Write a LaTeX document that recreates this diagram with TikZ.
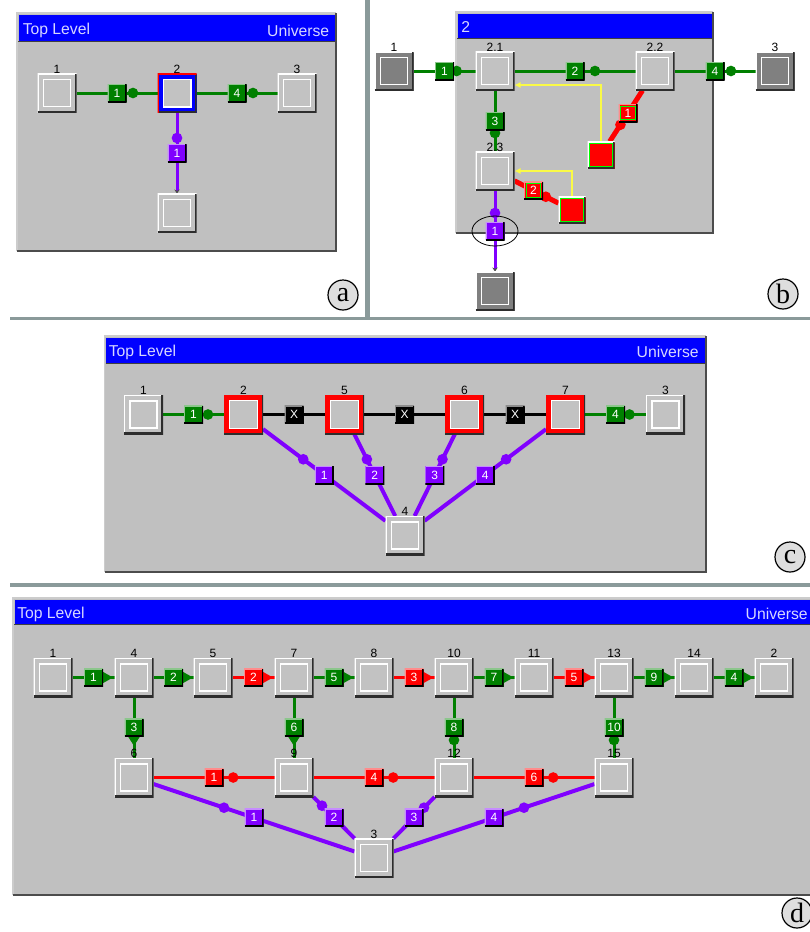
\documentclass[tikz,border=0pt]{standalone}
\usepackage{fontspec}
\setmainfont{Liberation Sans}
\newfontfamily\serifl{Liberation Serif}
\usetikzlibrary{calc,arrows.meta}
\pgfdeclarelayer{back}
\pgfdeclarelayer{lines}
\pgfsetlayers{back,lines,main}

\definecolor{wingray}{RGB}{192,192,192}
\definecolor{boxfill}{RGB}{194,194,194}
\definecolor{darkbox}{RGB}{128,128,128}
\definecolor{shadowc}{RGB}{45,45,45}
\definecolor{tblue}{RGB}{0,0,255}
\definecolor{gr}{RGB}{0,128,0}
\definecolor{pu}{RGB}{128,0,255}
\definecolor{rd}{RGB}{255,0,0}
\definecolor{yl}{RGB}{250,250,70}
\definecolor{sepc}{RGB}{138,154,154}
\definecolor{circfill}{RGB}{222,222,222}
\definecolor{lime}{RGB}{0,255,0}
\definecolor{ttlc}{RGB}{215,215,255}

\newcommand\portfont{\fontsize{9}{9}\selectfont}
\newcommand\lblfont{\fontsize{9}{9}\selectfont}
\newcommand\titlefont{\fontsize{11.8}{11.8}\selectfont}

\newcommand\corners{%
  \coordinate (SW) at (path picture bounding box.south west);
  \coordinate (NE) at (path picture bounding box.north east);}
\newcommand\nboxdeco{\corners
  \draw[white,line width=1.5pt] (SW) |- (NE);
  \draw[shadowc,line width=2.4pt] (SW) -| (NE);
  \draw[white,line width=0.9pt] ([shift={(4.5pt,4.5pt)}]SW) rectangle ([shift={(-4.5pt,-4.5pt)}]NE);}
\newcommand\framedeco{\corners
  \fill[boxfill] ([shift={(3.75pt,3.75pt)}]SW) rectangle ([shift={(-3.75pt,-3.75pt)}]NE);
  \draw[white,line width=0.9pt] ([shift={(4.2pt,4.2pt)}]SW) rectangle ([shift={(-4.2pt,-4.2pt)}]NE);
  \draw[shadowc,line width=2pt] (SW) -| (NE);}
\newcommand\bluedeco{\draw[rd,line width=1.5pt] (SW) |- (NE);}
\newcommand\redsqdeco{\corners
  \draw[white,line width=1.5pt] (SW) |- (NE);
  \draw[lime,line width=0.9pt] ([shift={(1.7pt,1.7pt)}]SW) rectangle ([shift={(-1.7pt,-1.7pt)}]NE);
  \draw[shadowc,line width=2.4pt] (SW) -| (NE);}

\tikzset{
  nbox/.style={minimum width=29.25pt, minimum height=29.25pt, inner sep=0pt, outer sep=0pt,
    fill=boxfill, label distance=2.5pt, path picture={\nboxdeco}},
  frbox/.style={nbox, fill=#1, path picture={\framedeco}},
  bluebox/.style={nbox, fill=tblue, path picture={\framedeco\bluedeco}},
  redsq/.style={minimum width=20.25pt, minimum height=20.25pt, inner sep=0pt, outer sep=0pt,
    fill=rd, path picture={\redsqdeco}},
  port/.style={minimum width=14.25pt, minimum height=13.5pt, inner sep=0pt, outer sep=0pt,
    fill=#1, text=white, font=\portfont,
    path picture={\corners
      \draw[white!55!#1,line width=1.5pt] (SW) |- (NE);
      \draw[black,line width=2pt] (SW) -| (NE);}},
  portg/.style={port=rd,
    path picture={\corners
      \draw[white!55!rd,line width=1.5pt] (SW) |- (NE);
      \draw[lime,line width=0.8pt] ([shift={(1.6pt,1.6pt)}]SW) rectangle ([shift={(-1.6pt,-1.6pt)}]NE);
      \draw[black,line width=2pt] (SW) -| (NE);}},
  lbl/.style={font=\lblfont, inner sep=0pt, text=black},
  ttl/.style={font=\titlefont, text=ttlc, inner sep=0pt},
  circ/.style={circle, draw=black, line width=0.9pt, fill=circfill, minimum size=22.5pt,
    inner sep=0pt, font={\serifl\fontsize{21}{21}\selectfont}},
}

% #1 colour, #2 width, #3 from, #4 to, #5 port name, #6 port style, #7 text, #8 dot position
\newcommand\link[8]{%
  \begin{pgfonlayer}{lines}
    \draw[#1,line width=#2] (#3) -- (#4);
    \if\relax\detokenize{#8}\relax\else
      \fill[#1] ($(#3)!#8!(#4)$) circle (4pt);
    \fi
  \end{pgfonlayer}
  \node[#6] (#5) at ($(#3)!0.5!(#4)$) {#7};}
\newcommand\triR[2]{\begin{pgfonlayer}{lines}
  \fill[#1] ([yshift=4.2pt]#2.east) -- ([xshift=7.5pt]#2.east) -- ([yshift=-4.2pt]#2.east) -- cycle;
  \end{pgfonlayer}}
\newcommand\triD[2]{\begin{pgfonlayer}{lines}
  \fill[#1] ([xshift=-4.5pt]#2.south) -- ([yshift=-7pt]#2.south) -- ([xshift=4.5pt]#2.south) -- cycle;
  \end{pgfonlayer}}
% window: x1 y1 x2 y2 bar-bottom
\newcommand\win[5]{%
  \fill[wingray] (#1,#2) rectangle (#3,#4);
  \fill[tblue] (#1+1.5,#2+1.5) rectangle (#3-1.5,#5);
  \draw[black!75,line width=0.75pt] (#1+1,#5) -- (#3-1,#5);
  \draw[white!80!black,line width=1.2pt] (#1,#4) |- (#3,#2);
  \draw[black!70,line width=1.5pt] (#1,#4) -| (#3,#2);}

\begin{document}
\begin{tikzpicture}[x=0.75pt,y=-0.75pt]
\useasboundingbox (0,0) rectangle (810,932);
\begin{pgfonlayer}{back}
  \fill[white] (0,0) rectangle (810,932);
  \fill[sepc] (10,316.5) rectangle (810,320);
  \fill[sepc] (365,0) rectangle (369.5,318);
  \fill[sepc] (10,583) rectangle (810,586.5);
  \win{17}{13}{336}{251}{41}
  \win{456}{12}{713}{233}{38}
  \win{104.5}{336}{706}{572}{363}
  \win{13}{598}{820}{895}{624}
\end{pgfonlayer}

% ---------------- panel (a)
\node[ttl,anchor=west] (ta1) at (22.5,30.5) {Top Level};
\node[ttl,anchor=east] (ta2) at (329.5,30.5) {Universe};
\node[nbox,label={[lbl]above:1}] (a1) at (57,93) {};
\node[bluebox,label={[lbl]above:2}] (a2) at (177,93) {};
\node[nbox,label={[lbl]above:3}] (a3) at (297,93) {};
\node[nbox] (a4) at (177,213) {};
\link{gr}{2.25pt}{a1}{a2}{pa1}{port=gr}{1}{0.633}
\link{gr}{2.25pt}{a2}{a3}{pa2}{port=gr}{4}{0.633}
\begin{pgfonlayer}{lines}
  \draw[pu,line width=2.25pt,-{Stealth[length=3pt,width=4pt,color=black!70]}] (a2) -- (a4);
  \fill[pu] ($(a2)!0.375!(a4)$) circle (4pt);
\end{pgfonlayer}
\node[port=pu] (pa3) at ($(a2)!0.5!(a4)$) {1};
\node[circ] (la) at (343,295) {a};

% ---------------- panel (b)
\node[ttl,anchor=west] (tb1) at (461,27.5) {2};
\node[nbox,fill=darkbox,label={[lbl]above:1}] (b1) at (394,71) {};
\node[nbox,label={[lbl]above:2.1}] (b21) at (495,71) {};
\node[nbox,label={[lbl]above:2.2}] (b22) at (655,71) {};
\node[nbox,fill=darkbox,label={[lbl]above:3}] (b3) at (775,71) {};
\node[nbox,label={[lbl]above:2.3}] (b23) at (495,171) {};
\node[nbox,fill=darkbox] (b4) at (495,291) {};
\node[redsq] (bA) at (601,155) {};
\node[redsq] (bB) at (572,210) {};
\link{gr}{2.25pt}{b1}{b21}{pb1}{port=gr}{1}{0.62}
\link{gr}{2.25pt}{b21}{b22}{pb2}{port=gr}{2}{0.625}
\link{gr}{2.25pt}{b22}{b3}{pb4}{port=gr}{4}{0.633}
\link{gr}{2.25pt}{b21}{b23}{pb3}{port=gr}{3}{0.62}
\link{rd}{3.75pt}{b22}{bA}{pbr1}{portg}{1}{0.64}
\link{rd}{3.75pt}{b23}{bB}{pbr2}{portg}{2}{0.66}
\begin{pgfonlayer}{lines}
  \draw[pu,line width=2.25pt,-{Stealth[length=3pt,width=4pt,color=black!70]}] (b23) -- (b4);
  \fill[pu] ($(b23)!0.35!(b4)$) circle (4pt);
  \draw[yl,line width=0.8pt,-{Latex[length=4.5pt,width=4.5pt]}] (bA.north) |- ($(b21.east)+(0,14)$);
  \draw[yl,line width=0.8pt,-{Latex[length=4.5pt,width=4.5pt]}] (bB.north) |- (b23.east);
\end{pgfonlayer}
\node[port=pu] (pbp1) at ($(b23)!0.5!(b4)$) {1};
\draw[black,line width=0.6pt] (pbp1) ellipse [x radius=17.25pt, y radius=11.25pt];
\node[circ] (lb) at (783,294) {b};

% ---------------- panel (c)
\node[ttl,anchor=west] (tc1) at (108.5,352) {Top Level};
\node[ttl,anchor=east] (tc2) at (699,352) {Universe};
\node[nbox,label={[lbl]above:1}] (c1) at (143.5,414.5) {};
\node[frbox=rd,label={[lbl]above:2}] (c2) at (243.5,414.5) {};
\node[frbox=rd,label={[lbl]above:5}] (c5) at (344.5,414.5) {};
\node[frbox=rd,label={[lbl]above:6}] (c6) at (464.5,414.5) {};
\node[frbox=rd,label={[lbl]above:7}] (c7) at (565.5,414.5) {};
\node[nbox,label={[lbl]above:3}] (c3) at (665.5,414.5) {};
\node[nbox,label={[lbl]above:4}] (c4) at (405,535.5) {};
\link{gr}{2.25pt}{c1}{c2}{pc1}{port=gr}{1}{0.645}
\link{black}{2.25pt}{c2}{c5}{pcx1}{port=black}{X}{}
\link{black}{2.25pt}{c5}{c6}{pcx2}{port=black}{X}{}
\link{black}{2.25pt}{c6}{c7}{pcx3}{port=black}{X}{}
\link{gr}{2.25pt}{c7}{c3}{pc4}{port=gr}{4}{0.64}
\link{pu}{3pt}{c2}{c4}{pcp1}{port=pu}{1}{0.37}
\link{pu}{3pt}{c5}{c4}{pcp2}{port=pu}{2}{0.37}
\link{pu}{3pt}{c6}{c4}{pcp3}{port=pu}{3}{0.37}
\link{pu}{3pt}{c7}{c4}{pcp4}{port=pu}{4}{0.37}
\node[circ] (lc) at (790,557) {c};

% ---------------- panel (d)
\node[ttl,anchor=west] (td1) at (17,614) {Top Level};
\node[ttl,anchor=east] (td2) at (808,614) {Universe};
\node[nbox,label={[lbl]above:1}] (d1) at (53,677.5) {};
\node[nbox,label={[lbl]above:4}] (d4) at (134,677.5) {};
\node[nbox,label={[lbl]above:5}] (d5) at (213,677.5) {};
\node[nbox,label={[lbl]above:7}] (d7) at (294,677.5) {};
\node[nbox,label={[lbl]above:8}] (d8) at (374,677.5) {};
\node[nbox,label={[lbl]above:10}] (d10) at (454,677.5) {};
\node[nbox,label={[lbl]above:11}] (d11) at (534,677.5) {};
\node[nbox,label={[lbl]above:13}] (d13) at (614,677.5) {};
\node[nbox,label={[lbl]above:14}] (d14) at (694,677.5) {};
\node[nbox,label={[lbl]above:2}] (d2) at (774,677.5) {};
\node[nbox,label={[lbl]above:6}] (d6) at (134,777.5) {};
\node[nbox,label={[lbl]above:9}] (d9) at (294,777.5) {};
\node[nbox,label={[lbl]above:12}] (d12) at (454,777.5) {};
\node[nbox,label={[lbl]above:15}] (d15) at (614,777.5) {};
\node[nbox,label={[lbl]above:3}] (d3) at (374,858) {};
\link{gr}{2.25pt}{d1}{d4}{q1}{port=gr}{1}{}\triR{gr}{q1}
\link{gr}{2.25pt}{d4}{d5}{q2}{port=gr}{2}{}\triR{gr}{q2}
\link{rd}{2.25pt}{d5}{d7}{q3}{port=rd}{2}{}\triR{rd}{q3}
\link{gr}{2.25pt}{d7}{d8}{q4}{port=gr}{5}{}\triR{gr}{q4}
\link{rd}{2.25pt}{d8}{d10}{q5}{port=rd}{3}{}\triR{rd}{q5}
\link{gr}{2.25pt}{d10}{d11}{q6}{port=gr}{7}{}\triR{gr}{q6}
\link{rd}{2.25pt}{d11}{d13}{q7}{port=rd}{5}{}\triR{rd}{q7}
\link{gr}{2.25pt}{d13}{d14}{q8}{port=gr}{9}{}\triR{gr}{q8}
\link{gr}{2.25pt}{d14}{d2}{q9}{port=gr}{4}{}\triR{gr}{q9}
\link{gr}{2.25pt}{d4}{d6}{v1}{port=gr}{3}{}\triD{gr}{v1}
\link{gr}{2.25pt}{d7}{d9}{v2}{port=gr}{6}{}\triD{gr}{v2}
\link{gr}{2.25pt}{d10}{d12}{v3}{port=gr}{8}{0.625}
\link{gr}{2.25pt}{d13}{d15}{v4}{port=gr}{10}{0.625}
\link{rd}{2.25pt}{d6}{d9}{r1}{port=rd}{1}{0.62}
\link{rd}{2.25pt}{d9}{d12}{r2}{port=rd}{4}{0.62}
\link{rd}{2.25pt}{d12}{d15}{r3}{port=rd}{6}{0.62}
\link{pu}{3pt}{d6}{d3}{u1}{port=pu}{1}{0.375}
\link{pu}{3pt}{d9}{d3}{u2}{port=pu}{2}{0.35}
\link{pu}{3pt}{d12}{d3}{u3}{port=pu}{3}{0.375}
\link{pu}{3pt}{d15}{d3}{u4}{port=pu}{4}{0.375}
\node[circ] (ld) at (797,913) {d};
\end{tikzpicture}
\end{document}
